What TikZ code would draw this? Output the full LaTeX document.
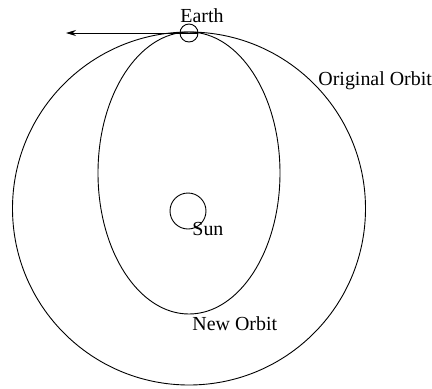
\documentclass[tikz,border=0pt]{standalone}
\usepackage{fontspec}
\setmainfont{Liberation Serif}
\usetikzlibrary{positioning,arrows.meta}

\begin{document}
\begin{tikzpicture}[x=1bp,y=-1bp,line width=0.9bp,
  body/.style={draw,circle,inner sep=0pt},
  lbl/.style={font=\fontsize{20}{24}\selectfont,inner sep=0pt,anchor=base west}]
  \useasboundingbox (0,0) rectangle (432,389);
  % orbits
  \draw (189,208.5) circle [radius=176.5];
  \draw (189,173) ellipse [x radius=91, y radius=141];
  % bodies
  \node[body,minimum size=18bp] (earth) at (189,33) {};
  \node[body,minimum size=36bp] (sun) at (188,211) {};
  \coordinate (dir) at (66,33);
  \draw[-{Stealth[length=10bp,width=6bp]}] (earth.east) -- (dir);
  % labels
  \node[lbl] (earthlbl) at (180,22) {Earth};
  \node[lbl] (sunlbl) at (192,235) {Sun};
  \node[lbl] (newlbl) at (192,330) {New Orbit};
  \node[lbl] (origlbl) at (318,85) {Original Orbit};
\end{tikzpicture}
\end{document}
